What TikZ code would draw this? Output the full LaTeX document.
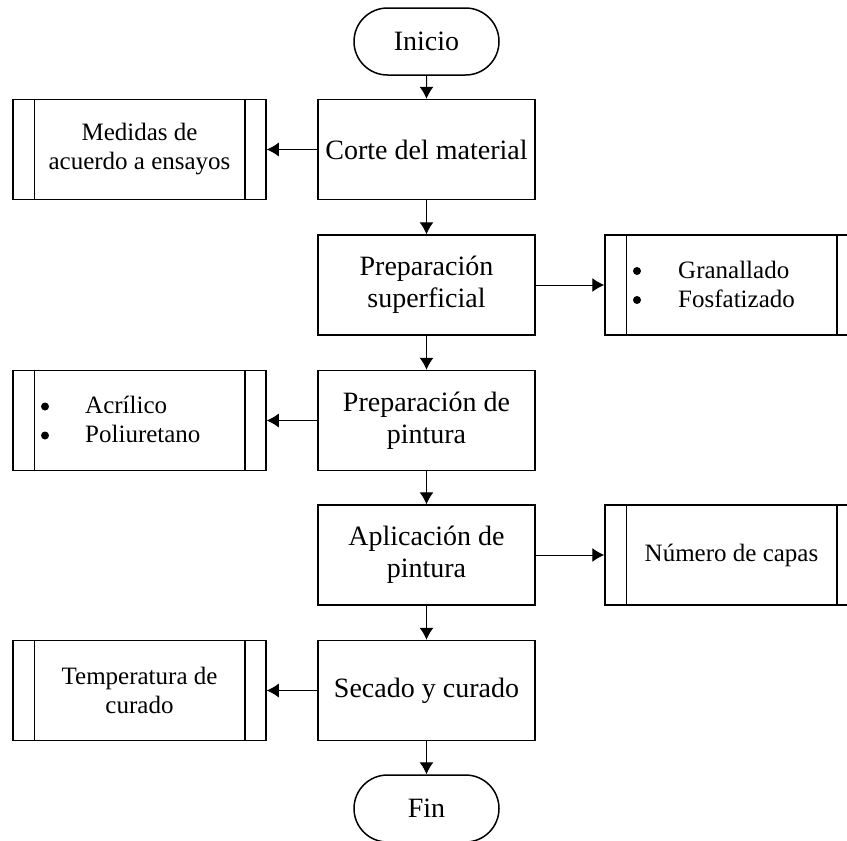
\documentclass[tikz,border=0pt]{standalone}
\usepackage{fontspec}
\setmainfont{Liberation Serif}
\usetikzlibrary{arrows.meta,shapes.misc}
\begin{document}
\begin{tikzpicture}[x=1pt,y=-1pt,
  mainbox/.style={draw,line width=1.5pt,minimum width=217pt,minimum height=100pt,align=center,font=\fontsize{28}{32}\selectfont,inner sep=0pt},
  sidebox/.style={draw,line width=1.5pt,minimum width=253pt,minimum height=100pt,align=center,font=\fontsize{25}{29}\selectfont,inner sep=0pt},
  term/.style={draw,line width=1.5pt,rounded rectangle,minimum width=145pt,minimum height=67pt,font=\fontsize{28}{32}\selectfont,inner sep=0pt},
  conn/.style={line width=1pt,-{Latex[length=12pt,width=14pt]}},
  item/.style={anchor=base west,font=\fontsize{25}{29}\selectfont,inner sep=0pt},
  bul/.style={fill=black}
]
\useasboundingbox (0,0) rectangle (847,841);
\clip (0,0) rectangle (847,841);
\fill[white] (0,0) rectangle (847,841);

% main column
\node[term] (inicio) at (426.5,41.5) {Inicio};
\node[mainbox] (corte) at (426.5,149.5) {Corte del material};
\node[mainbox] (prepsup) at (426.5,285) {Preparación\\superficial};
\node[mainbox] (preppint) at (426.5,420.5) {Preparación de\\pintura};
\node[mainbox] (aplic) at (426.5,555) {Aplicación de\\pintura};
\node[mainbox] (secado) at (426.5,690.5) {Secado y curado};
\node[term] (fin) at (426.5,808.5) {Fin};

% side boxes
\node[sidebox] (medidas) at (139.5,149.5) {Medidas de\\acuerdo a ensayos};
\node[sidebox] (granallado) at (731.5,285) {};
\node[sidebox] (acrilico) at (139.5,420.5) {};
\node[sidebox] (capas) at (731.5,555) {Número de capas};
\node[sidebox] (temp) at (139.5,690.5) {Temperatura de\\curado};

\foreach \n in {medidas,granallado,acrilico,capas,temp}{
  \draw[line width=1.5pt] ([xshift=22pt]\n.north west) -- ([xshift=22pt]\n.south west);
  \draw[line width=1.5pt] ([xshift=-22pt]\n.north east) -- ([xshift=-22pt]\n.south east);
}

% bullet lists
\node[item] (g1) at (678,278) {Granallado};
\node[item] (g2) at (678,307) {Fosfatizado};
\fill[bul] (637,271) circle (4pt);
\fill[bul] (637,300) circle (4pt);
\node[item] (a1) at (85,413.5) {Acrílico};
\node[item] (a2) at (85,442.5) {Poliuretano};
\fill[bul] (45,406.5) circle (4pt);
\fill[bul] (45,435.5) circle (4pt);

% connectors
\draw[conn] (inicio) -- (corte);
\draw[conn] (corte) -- (prepsup);
\draw[conn] (prepsup) -- (preppint);
\draw[conn] (preppint) -- (aplic);
\draw[conn] (aplic) -- (secado);
\draw[conn] (secado) -- (fin);
\draw[conn] (corte) -- (medidas);
\draw[conn] (prepsup) -- (granallado);
\draw[conn] (preppint) -- (acrilico);
\draw[conn] (aplic) -- (capas);
\draw[conn] (secado) -- (temp);
\end{tikzpicture}
\end{document}
